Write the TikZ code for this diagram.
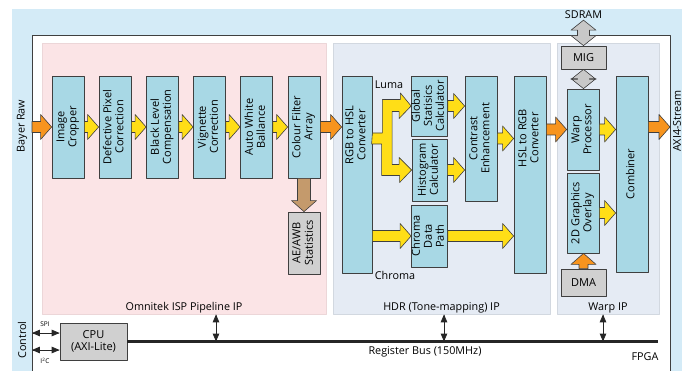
\documentclass[tikz,border=0pt]{standalone}
\usepackage{fontspec}
\setmainfont{Open Sans}
\usepackage{graphicx}
\usetikzlibrary{arrows,calc,positioning}
\definecolor{d4ebf7}{HTML}{D4EBF7}
\definecolor{fbe4e6}{HTML}{FBE4E6}
\definecolor{ecd6d8}{HTML}{ECD6D8}
\definecolor{e5ebf4}{HTML}{E5EBF4}
\definecolor{d2d8e0}{HTML}{D2D8E0}
\definecolor{a8d8e5}{HTML}{A8D8E5}
\definecolor{d0d0d0}{HTML}{D0D0D0}
\definecolor{c8c8c8}{HTML}{C8C8C8}
\definecolor{3f3f3f}{HTML}{3F3F3F}
\definecolor{ffde17}{HTML}{FFDE17}
\definecolor{f7941e}{HTML}{F7941E}
\definecolor{c49a6c}{HTML}{C49A6C}
\definecolor{262626}{HTML}{262626}

\newcommand{\vlabel}[1]{\rotatebox{90}{\begin{tabular}{@{}c@{}}#1\end{tabular}}}
% block arrow: fill, from, to [shaft half width]
\newcommand{\blockarrow}[4][5.5pt]{%
\coordinate (ba) at ($#4!11pt!#3$);
\filldraw[fill=#2,draw=3f3f3f,line width=0.6pt] ($#3!#1!90:#4$) -- ($(ba)!#1!90:#4$) -- ($(ba)!12.5pt!90:#4$) -- #4 -- ($(ba)!12.5pt!-90:#4$) -- ($(ba)!#1!-90:#4$) -- ($#3!#1!-90:#4$) -- cycle;}
% double headed block arrow: from, to
\newcommand{\dblarrow}[2]{%
\coordinate (da) at ($#1!10pt!#2$);
\coordinate (db) at ($#2!10pt!#1$);
\filldraw[fill=c8c8c8,draw=3f3f3f,line width=0.6pt] #1 -- ($(da)!12.5pt!90:#2$) -- ($(da)!6pt!90:#2$) -- ($(db)!6pt!90:#2$) -- ($(db)!12.5pt!90:#2$) -- #2 -- ($(db)!12.5pt!-90:#2$) -- ($(db)!6pt!-90:#2$) -- ($(da)!6pt!-90:#2$) -- ($(da)!12.5pt!-90:#2$) -- cycle;}

\begin{document}
\begin{tikzpicture}[line cap=round,line join=round,>=triangle 45,x=1pt,y=-1pt,
  blk/.style={draw=3f3f3f,fill=a8d8e5,line width=0.8pt,minimum width=32pt,inner sep=0pt,font=\fontsize{11}{12}\selectfont},
  gbox/.style={draw=3f3f3f,fill=d0d0d0,line width=0.8pt,inner sep=0pt,font=\fontsize{11}{12.5}\selectfont},
  txt/.style={inner sep=0pt,font=\fontsize{11}{12}\selectfont},
  ispbox/.style={draw=ecd6d8,fill=fbe4e6,line width=0.8pt,inner sep=0pt,minimum height=271pt},
  ipbox/.style={draw=d2d8e0,fill=e5ebf4,line width=0.8pt,inner sep=0pt,minimum height=271pt},
  lbl/.style={inner sep=1pt,font=\fontsize{10.8}{12}\selectfont},
  small/.style={inner sep=1pt,font=\fontsize{6.5}{7}\selectfont}]
\clip (0,0) rectangle (682,371);
\fill [d4ebf7] (12,9) rectangle (682,371);
\draw [line width=1pt,color=3f3f3f,fill=white] (32,36) rectangle (670,380);
% IP regions
\node [ispbox,minimum width=284pt] (isp) at (184,178.5) {};
\node [ipbox,minimum width=217pt] (hdr) at (441.5,178.5) {};
\node [ipbox,minimum width=102pt] (warp) at (608,178.5) {};
\node [lbl,anchor=south] (ispname) at (isp.south) {Omnitek ISP Pipeline IP};
\node [lbl,anchor=south] (hdrname) at (hdr.south) {HDR (Tone-mapping) IP};
\node [lbl,anchor=south] (warpname) at (warp.south) {Warp IP};
% ISP pipeline
\node [blk,minimum height=102pt] (ic) at (68,127) {\vlabel{Image\\Cropper}};
\node [blk,minimum height=102pt] (dpc) at (115,127) {\vlabel{Defective Pixel\\Correction}};
\node [blk,minimum height=102pt] (blc) at (162.5,127) {\vlabel{Black Level\\Compensation}};
\node [blk,minimum height=102pt] (vc) at (209.5,127) {\vlabel{Vignette\\Correction}};
\node [blk,minimum height=102pt] (awb) at (256.5,127) {\vlabel{Auto White\\Ballance}};
\node [blk,minimum height=102pt] (cfa) at (304,127) {\vlabel{Colour Filter\\Array}};
\node [gbox,minimum width=32pt,minimum height=62pt] (stats) at (304,243) {\vlabel{AE/AWB\\Statistics}};
% HDR
\node [blk,minimum width=30pt,minimum height=197pt] (rgbhsl) at (357,174.5) {};
\node [txt] (rgbhsltxt) at (357,135) {\vlabel{RGB to HSL\\Converter}};
\node [blk,minimum width=35pt,minimum height=60pt] (gsc) at (429.5,106) {\vlabel{Global\\Statisics\\Calculator}};
\node [blk,minimum width=35pt,minimum height=62pt] (hc) at (429.5,170) {\vlabel{Histogram\\Calculator}};
\node [blk,minimum width=35pt,minimum height=62pt] (cdp) at (429.5,236) {\vlabel{Chroma\\Data\\Path}};
\node [blk,minimum height=125pt] (ce) at (481,138.5) {\vlabel{Contrast\\Enhancement}};
\node [blk,minimum height=197pt] (hslrgb) at (530,174.5) {};
\node [txt] (hslrgbtxt) at (530,138) {\vlabel{HSL to RGB\\Converter}};
\node [lbl] (luma) at (389,85) {Luma};
\node [lbl] (chroma) at (395,275) {Chroma};
% Warp
\node [lbl] (sdram) at (583.5,15) {SDRAM};
\node [gbox,minimum width=45pt,minimum height=23pt] (mig) at (583.5,57.5) {MIG};
\node [blk,minimum height=81pt] (wp) at (583,129.5) {\vlabel{Warp\\Processor}};
\node [blk,minimum height=80pt] (gfx) at (583,213) {\vlabel{2D Graphics\\Overlay}};
\node [gbox,minimum width=45pt,minimum height=27pt] (dma) at (583.5,282.5) {DMA};
\node [blk,minimum height=196pt] (comb) at (632,174) {\vlabel{Combiner}};
% control
\node [gbox,minimum width=67pt,minimum height=37pt,align=center] (cpu) at (93.5,341.5) {CPU\\(AXI-Lite)};
\node [small] (spi) at (45,324) {SPI};
\node [small] (i2c) at (45,361) {I\textsuperscript{2}C};
\node [lbl] (busname) at (425,352) {Register Bus (150MHz)};
\node [lbl] (fpga) at (645,357) {FPGA};
\node [lbl,rotate=90] (bayer) at (22,126) {Bayer Raw};
\node [lbl,rotate=90] (ctrl) at (22,340) {Control};
\node [lbl,rotate=90] (axis) at (677,121) {AXI4-Stream};
\coordinate (rawin) at (32,127);
\coordinate (axiout) at (670,127);
\coordinate (spiend) at (32,333);
\coordinate (i2cend) at (32,350);
\coordinate (busend) at (658,341.5);
% video path
\blockarrow{f7941e}{(rawin)}{(ic.west)}
\blockarrow{ffde17}{(ic.east)}{(dpc.west)}
\blockarrow{ffde17}{(dpc.east)}{(blc.west)}
\blockarrow{ffde17}{(blc.east)}{(vc.west)}
\blockarrow{ffde17}{(vc.east)}{(awb.west)}
\blockarrow{ffde17}{(awb.east)}{(cfa.west)}
\blockarrow[6.5pt]{c49a6c}{(cfa.south)}{(stats.north)}
\blockarrow{f7941e}{(cfa.east)}{(cfa.east -| rgbhsl.west)}
\filldraw [fill=ffde17,draw=3f3f3f,line width=0.6pt] (rgbhsl.east) ++(0,-41.5) -- ++(10,0) -- ++(0,-33.5) -- ++(18,0) -- ++(0,-6.5) -- (gsc.west) -- ++(-12,12.5) -- ++(0,-7) -- ++(-7,0) -- ++(0,53) -- ++(7,0) -- ++(0,-7) -- (hc.west) -- ++(-12,12.5) -- ++(0,-7) -- ++(-18,0) -- ++(0,-31.5) -- ++(-10,0) -- cycle;
\blockarrow{ffde17}{(rgbhsl.east |- cdp.west)}{(cdp.west)}
\blockarrow{ffde17}{(gsc.east)}{(gsc.east -| ce.west)}
\blockarrow{ffde17}{(hc.east)}{(hc.east -| ce.west)}
\blockarrow{ffde17}{(ce.east)}{(ce.east -| hslrgb.west)}
\blockarrow{ffde17}{(cdp.east)}{(cdp.east -| hslrgb.west)}
\blockarrow{f7941e}{(hslrgb.east |- wp.west)}{(wp.west)}
\blockarrow{ffde17}{(wp.east)}{(wp.east -| comb.west)}
\blockarrow{ffde17}{(gfx.east)}{(gfx.east -| comb.west)}
\blockarrow[4.5pt]{f7941e}{(dma.north)}{(dma.north |- gfx.south)}
\blockarrow{f7941e}{(comb.east |- axiout)}{(axiout)}
\dblarrow{(sdram.south)}{(mig.north)}
\dblarrow{(mig.south)}{(mig.south |- wp.north)}
% register bus
\draw [line width=3pt,color=262626,line cap=butt] (cpu.east) -- (busend);
\draw [<->,line width=0.8pt,color=262626] ([xshift=32pt]isp.south) -- ([xshift=32pt]isp.south |- busend);
\draw [<->,line width=0.8pt,color=262626] ([xshift=2.5pt]hdr.south) -- ([xshift=2.5pt]hdr.south |- busend);
\draw [<->,line width=0.8pt,color=262626] ([xshift=-5pt]warp.south) -- ([xshift=-5pt]warp.south |- busend);
\draw [<->,line width=0.8pt,color=262626] (spiend) -- (spiend -| cpu.west);
\draw [<->,line width=0.8pt,color=262626] (i2cend) -- (i2cend -| cpu.west);
\end{tikzpicture}
\end{document}
